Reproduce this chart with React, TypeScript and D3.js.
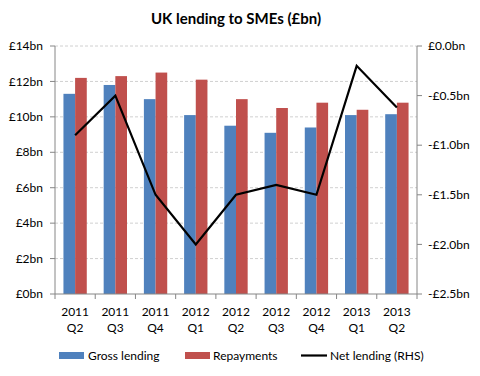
import React from "react";
import * as d3 from "d3";

const categories = ["2011 Q2", "2011 Q3", "2011 Q4", "2012 Q1", "2012 Q2", "2012 Q3", "2012 Q4", "2013 Q1", "2013 Q2"];
const grossLending = [11.3, 11.8, 11.0, 10.1, 9.5, 9.1, 9.4, 10.1, 10.15];
const repayments = [12.2, 12.3, 12.5, 12.1, 11.0, 10.5, 10.8, 10.4, 10.8];
const netLending = [-0.9, -0.5, -1.5, -2.0, -1.5, -1.4, -1.5, -0.2, -0.62];
const leftTicks = [0, 2, 4, 6, 8, 10, 12, 14];
const rightTicks = [0, -0.5, -1.0, -1.5, -2.0, -2.5];

const W = 480, H = 376;
const M = { left: 55, right: 417, top: 46, bottom: 294 };
const FONT = "Lato, 'Open Sans', sans-serif";

export default function App() {
  const x = d3.scaleBand<string>().domain(categories).range([M.left, M.right]);
  const yL = d3.scaleLinear().domain([0, 14]).range([M.bottom, M.top]);
  const yR = d3.scaleLinear().domain([-2.5, 0]).range([M.bottom, M.top]);
  const barW = x.bandwidth() * 0.29;
  const line = d3.line<number>()
    .x((_, i) => (x(categories[i]) as number) + x.bandwidth() / 2)
    .y((d) => yR(d));
  const axisColor = "#868686";
  const fmtR = (v: number) => (v === 0 ? "£0.0bn" : "-£" + Math.abs(v).toFixed(1) + "bn");

  return (
    <svg width={W} height={H} style={{ display: "block", position: "absolute", left: 0, top: 0 }} fontFamily={FONT}>
      <rect width={W} height={H} fill="#fff" />
      <text x={236} y={24} textAnchor="middle" fontSize={15} fontWeight="bold" fill="#000">UK lending to SMEs (£bn)</text>
      {leftTicks.filter((t) => t > 0).map((t) => (
        <line key={"g" + t} x1={M.left} x2={M.right} y1={yL(t)} y2={yL(t)} stroke="#d0d0d0" strokeDasharray="3,2" strokeWidth={1} />
      ))}
      {categories.map((c, i) => {
        const cx = (x(c) as number) + x.bandwidth() / 2;
        return (
          <g key={c}>
            <rect x={cx - barW} y={yL(grossLending[i])} width={barW} height={M.bottom - yL(grossLending[i])} fill="#4F81BD" />
            <rect x={cx} y={yL(repayments[i])} width={barW} height={M.bottom - yL(repayments[i])} fill="#C0504D" />
          </g>
        );
      })}
      <path d={line(netLending) || ""} fill="none" stroke="#000" strokeWidth={2.2} strokeLinejoin="miter" />
      {/* axes */}
      <line x1={M.left} x2={M.left} y1={M.top} y2={M.bottom} stroke={axisColor} />
      <line x1={M.right} x2={M.right} y1={M.top} y2={M.bottom} stroke={axisColor} />
      <line x1={M.left} x2={M.right} y1={M.bottom} y2={M.bottom} stroke={axisColor} />
      {leftTicks.map((t) => (
        <g key={"l" + t}>
          <line x1={M.left - 5} x2={M.left} y1={yL(t)} y2={yL(t)} stroke={axisColor} />
          <text x={43} y={yL(t)} dy="0.35em" textAnchor="end" fontSize={12} fill="#000">£{t}bn</text>
        </g>
      ))}
      {rightTicks.map((t) => (
        <g key={"r" + t}>
          <line x1={M.right} x2={M.right + 5} y1={yR(t)} y2={yR(t)} stroke={axisColor} />
          <text x={428} y={yR(t)} dy="0.35em" textAnchor="start" fontSize={12} fill="#000">{fmtR(t)}</text>
        </g>
      ))}
      {categories.map((c, i) => (
        <line key={"xt" + i} x1={x(c) as number} x2={x(c) as number} y1={M.bottom} y2={M.bottom + 5} stroke={axisColor} />
      ))}
      <line x1={M.right} x2={M.right} y1={M.bottom} y2={M.bottom + 5} stroke={axisColor} />
      {categories.map((c) => {
        const cx = (x(c) as number) + x.bandwidth() / 2;
        const [yr, q] = c.split(" ");
        return (
          <text key={"xl" + c} x={cx} textAnchor="middle" fontSize={12} fill="#000">
            <tspan x={cx} y={316}>{yr}</tspan>
            <tspan x={cx} y={332}>{q}</tspan>
          </text>
        );
      })}
      {/* legend */}
      <rect x={59} y={352} width={25} height={7} fill="#4F81BD" />
      <text x={88} y={356} dy="0.35em" fontSize={12} fill="#000">Gross lending</text>
      <rect x={185} y={352} width={25} height={7} fill="#C0504D" />
      <text x={213} y={356} dy="0.35em" fontSize={12} fill="#000">Repayments</text>
      <line x1={301} x2={327} y1={355.5} y2={355.5} stroke="#000" strokeWidth={2.2} />
      <text x={330} y={356} dy="0.35em" fontSize={12} fill="#000">Net lending (RHS)</text>
    </svg>
  );
}
